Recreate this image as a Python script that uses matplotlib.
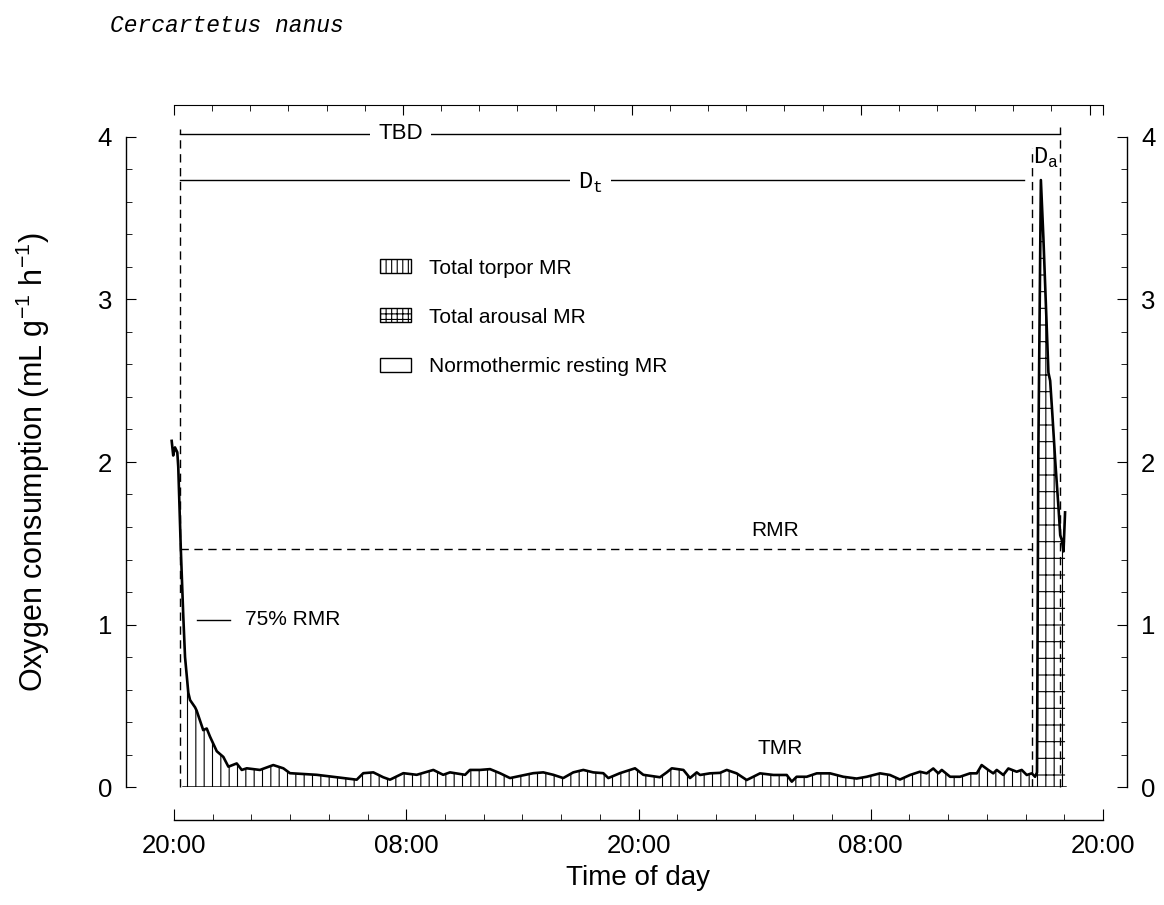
import numpy as np
import matplotlib.pyplot as plt
from matplotlib.patches import Patch

plt.rcParams['font.family'] = ['Liberation Sans', 'DejaVu Sans']
plt.rcParams['mathtext.fontset'] = 'custom'
plt.rcParams['mathtext.rm'] = 'Liberation Sans'
plt.rcParams['mathtext.tt'] = 'Liberation Mono'
plt.rcParams['hatch.linewidth'] = 0.8

# hours after 20:00 on the first evening
hours = [-0.12, -0.04, 0.05, 0.17, 0.22, 0.35, 0.48, 0.57, 0.74, 0.83,
         1.09, 1.17, 1.34, 1.51, 1.69, 1.86, 2.21, 2.55, 2.81, 3.24,
         3.50, 3.76, 4.44, 5.13, 5.65, 5.99, 7.37, 8.41, 9.44, 9.78,
         10.30, 10.81, 11.16, 11.85, 12.54, 13.40, 13.91, 14.26, 15.04, 15.29,
         15.81, 16.33, 16.84, 17.36, 17.88, 18.56, 19.08, 19.60, 20.11, 20.63,
         21.15, 21.66, 22.18, 22.44, 23.04, 23.82, 24.25, 25.11, 25.46, 25.72,
         26.32, 26.66, 27.01, 27.18, 27.69, 28.21, 28.56, 29.07, 29.59, 29.93,
         30.28, 30.97, 31.66, 31.92, 32.17, 32.69, 33.21, 33.90, 34.58, 35.27,
         35.79, 36.48, 36.99, 37.51, 38.03, 38.54, 38.89, 39.23, 39.49, 39.67,
         40.10, 40.61, 41.13, 41.48, 41.73, 42.07, 42.33, 42.51, 42.85, 43.11,
         43.54, 43.80, 44.06, 44.32, 44.49, 44.59, 44.66, 44.79, 44.92, 45.18,
         45.27, 45.38, 45.53, 45.70, 45.79, 45.87, 45.96, 46.04]
vo2 = [2.13, 2.04, 2.09, 2.06, 1.97, 1.47, 1.05, 0.80, 0.58, 0.535,
       0.49, 0.47, 0.41, 0.35, 0.36, 0.31, 0.22, 0.185, 0.125, 0.145,
       0.105, 0.115, 0.105, 0.135, 0.115, 0.085, 0.075, 0.06, 0.045, 0.085,
       0.09, 0.06, 0.045, 0.085, 0.075, 0.105, 0.075, 0.09, 0.075, 0.105,
       0.105, 0.11, 0.085, 0.055, 0.068, 0.085, 0.09, 0.075, 0.055, 0.09,
       0.105, 0.09, 0.085, 0.055, 0.085, 0.115, 0.075, 0.06, 0.09, 0.115,
       0.105, 0.055, 0.09, 0.074, 0.084, 0.087, 0.105, 0.084, 0.043, 0.063,
       0.084, 0.074, 0.074, 0.033, 0.063, 0.063, 0.084, 0.084, 0.063, 0.052,
       0.063, 0.084, 0.074, 0.046, 0.074, 0.094, 0.084, 0.114, 0.084, 0.105,
       0.063, 0.063, 0.084, 0.084, 0.135, 0.105, 0.084, 0.105, 0.074, 0.114,
       0.094, 0.105, 0.074, 0.084, 0.063, 0.09, 2.07, 3.735, 3.38, 2.55,
       2.50, 2.30, 2.01, 1.72, 1.55, 1.52, 1.45, 1.69]

rmr = 1.465
torpor_span = (0.48, 44.59)
arousal_span = (44.59, 46.04)
tbd_span = (0.3, 45.78)
dt_span = (0.3, 43.9)
da_start = 44.32
tick_hours = [0, 12, 24, 36, 48]
tick_labels = ['20:00', '08:00', '20:00', '08:00', '20:00']

hours = np.array(hours)
vo2 = np.array(vo2)

fig = plt.figure(figsize=(11.64, 9.05), dpi=100)
ax = fig.add_axes([174 / 1164, 118 / 905, 929 / 1164, 650 / 905])
ax.set_xlim(0, 48)
ax.set_ylim(0, 4)

# shaded areas
torp = (hours >= torpor_span[0]) & (hours <= torpor_span[1])
ax.fill_between(hours, 0, vo2, where=torp, facecolor='white', edgecolor='black',
                linewidth=0, hatch='||')
arou = (hours >= arousal_span[0]) & (hours <= arousal_span[1])
ax.fill_between(hours, 0, vo2, where=arou, facecolor='white', edgecolor='black',
                linewidth=0, hatch='-||')
ax.plot([torpor_span[0], arousal_span[1]], [0, 0], color='black', lw=1.8)

ax.plot(hours, vo2, color='black', lw=1.9, clip_on=False, zorder=4)

# RMR and duration markers
dash = (0, (6, 4))
ax.plot([tbd_span[0], da_start], [rmr, rmr], color='black', lw=1, ls=dash)
ax.plot([tbd_span[0], tbd_span[0]], [0, 4.05], color='black', lw=1, ls=dash, clip_on=False)
ax.plot([da_start, da_start], [0, 3.93], color='black', lw=1, ls=dash)
ax.plot([tbd_span[1], tbd_span[1]], [0, 4.06], color='black', lw=1, ls=dash, clip_on=False)
ax.plot(tbd_span, [4.02, 4.02], color='black', lw=1, clip_on=False)
ax.plot(dt_span, [3.735, 3.735], color='black', lw=1)

wb = dict(facecolor='white', edgecolor='none', pad=6)
ax.text(11.7, 4.02, 'TBD', fontsize=16, ha='center', va='center', bbox=wb)
ax.text(21.5, 3.72, r'$\mathtt{D}_{\mathtt{t}}$', fontsize=17, ha='center', va='center', bbox=wb)
ax.text(45.05, 3.87, r'$\mathtt{D}_{\mathtt{a}}$', fontsize=17, ha='center', va='center')
ax.text(31.05, 1.58, 'RMR', fontsize=15, ha='center', va='center')
ax.text(31.3, 0.24, 'TMR', fontsize=15, ha='center', va='center')
ax.plot([1.2, 2.9], [1.03, 1.03], color='black', lw=1)
ax.text(3.65, 1.03, '75% RMR', fontsize=15, ha='left', va='center')

handles = [Patch(facecolor='white', edgecolor='black', hatch='|||', lw=1),
           Patch(facecolor='white', edgecolor='black', hatch='+++', lw=1),
           Patch(facecolor='white', edgecolor='black', lw=1)]
ax.legend(handles, ['Total torpor MR', 'Total arousal MR', 'Normothermic resting MR'],
          loc='upper left', bbox_to_anchor=(0.2217, 0.813), frameon=False, fontsize=15,
          borderpad=0, borderaxespad=0, handlelength=1.5, handleheight=0.65,
          handletextpad=0.85, labelspacing=1.45)

# axes: detached brackets
ax.spines['top'].set_visible(False)
for side, off in [('left', 34.5), ('bottom', 23.8), ('right', 17.3)]:
    ax.spines[side].set_position(('outward', off))
    ax.spines[side].set_linewidth(1)
ax.spines['left'].set_bounds(0, 4)
ax.spines['right'].set_bounds(0, 4)
ax.spines['bottom'].set_bounds(0, 48)

ax.set_yticks([0, 1, 2, 3, 4])
ax.set_yticks(np.arange(0, 4.01, 0.2), minor=True)
ax.tick_params(axis='y', which='both', direction='in', left=True, right=True,
               labelright=True, labelsize=18.5)
ax.tick_params(axis='y', which='major', length=7, pad=10)
ax.tick_params(axis='y', which='minor', length=4)
ax.set_xticks(tick_hours, tick_labels)
ax.set_xticks(np.arange(0, 48.1, 2), minor=True)
ax.tick_params(axis='x', which='both', direction='in', labelsize=18.5)
ax.tick_params(axis='x', which='major', length=8, pad=10)
ax.tick_params(axis='x', which='minor', length=4)

ax.set_xlabel('Time of day', fontsize=20, labelpad=5)
ax.set_ylabel(r'Oxygen consumption (mL g$^{-1}$ h$^{-1}$)', fontsize=22, labelpad=33)

top = ax.twiny()
top.set_xlim(0, 48)
for side in ['left', 'right', 'bottom']:
    top.spines[side].set_visible(False)
top.spines['top'].set_position(('outward', 23))
top.spines['top'].set_bounds(-0.4, 48.3)
top.set_xticks(list(np.arange(-0.4, 48, 12)) + [48.3])
top.set_xticks(np.arange(-0.4, 48, 2), minor=True)
top.tick_params(axis='x', which='both', direction='in', labeltop=False)
top.tick_params(axis='x', which='major', length=7)
top.tick_params(axis='x', which='minor', length=4)

fig.text(110 / 1164, 1 - 26 / 905, 'Cercartetus nanus', fontsize=16.5,
         family='Liberation Mono', style='italic', va='center')

fig.savefig('out.png', dpi=100)
